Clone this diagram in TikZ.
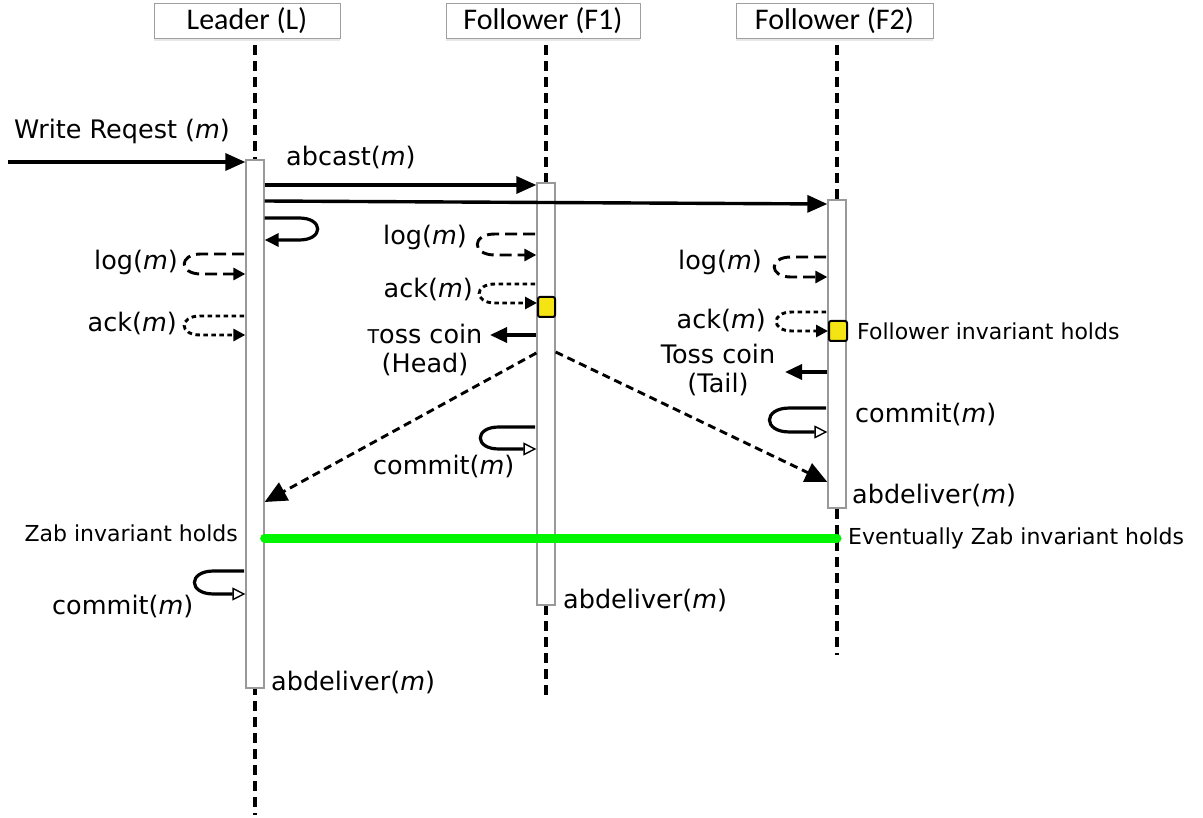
\documentclass[tikz,border=0pt]{standalone}
\usepackage{fontspec}
\setmainfont{DejaVu Sans}
\newfontfamily\hdrfont{Carlito}
\usetikzlibrary{arrows.meta,shadows}

% C-shaped self call on the left of a bar: style, start, leftmost x, top y, bottom y, end
\newcommand\leftcall[6]{%
  \draw[#1] (#2) -- ({#3+0.9*(#5-#4)},#4)
    .. controls ({#3-0.22*(#5-#4)},#4) and ({#3-0.22*(#5-#4)},#5) ..
    ({#3+0.9*(#5-#4)},#5) -- (#6);}
% the same, opening to the left (bulge on the right)
\newcommand\rightcall[6]{%
  \draw[#1] (#2) -- ({#3-0.9*(#5-#4)},#4)
    .. controls ({#3+0.22*(#5-#4)},#4) and ({#3+0.22*(#5-#4)},#5) ..
    ({#3-0.9*(#5-#4)},#5) -- (#6);}

\begin{document}
\begin{tikzpicture}[x=1pt,y=-1pt,
  header/.style={draw=gray!75, fill=white, line width=0.9pt, minimum width=186pt,
    minimum height=35pt, inner sep=0pt, font=\hdrfont\fontsize{30}{32}\selectfont,
    drop shadow={opacity=0.18, shadow xshift=0pt, shadow yshift=-3pt}},
  lifeline/.style={line width=3.2pt, dash pattern=on 10pt off 6pt},
  activation/.style={draw=gray!80, fill=white, line width=1.3pt, minimum width=18pt, inner sep=0pt},
  token/.style={draw=black, fill={rgb,255:red,245;green,228;blue,20}, line width=2pt, rounded corners=2pt,
    minimum width=17pt, minimum height=20pt, inner sep=0pt},
  lbl/.style={inner sep=0pt, font=\fontsize{25.5}{28}\selectfont},
  small/.style={inner sep=0pt, font=\fontsize{22}{26}\selectfont},
  msg/.style={line width=3.4pt, -{Triangle[length=20pt,width=17pt]}},
  selfmsg/.style={line width=3.2pt, -{Triangle[length=14pt,width=13pt]}},
  logloop/.style={line width=2.9pt, dash pattern=on 12pt off 6pt,
    -{Triangle[length=12pt,width=12pt]}},
  ackloop/.style={line width=2.9pt, dash pattern=on 4.5pt off 3.5pt,
    -{Triangle[length=12pt,width=12pt]}},
  commitloop/.style={line width=3.2pt,
    -{Triangle[open,fill=white,length=13pt,width=13pt,line width=1.4pt]}},
  coinmsg/.style={line width=3.4pt, -{Triangle[length=17pt,width=15pt]}},
  reply/.style={line width=2.9pt, dash pattern=on 8pt off 5pt, -{Triangle[length=22pt,width=20pt]}},
  agree/.style={line width=9pt, line cap=round, draw={rgb,255:red,0;green,245;blue,0}}
]
\useasboundingbox (0,0) rectangle (1203,818);

% participants
\node[header] (hL) at (247,20.5) {Leader (L)};
\node[header, minimum width=194pt] (hF1) at (543,20.5) {Follower (F1)};
\node[header, minimum width=197pt] (hF2) at (834.5,20.5) {Follower (F2)};

% lifelines
\coordinate (Ltop) at (255,45);   \coordinate (Lend) at (255,815);
\coordinate (F1top) at (546,45);  \coordinate (F1end) at (546,700);
\coordinate (F2top) at (837,45);  \coordinate (F2end) at (837,655);
\draw[lifeline] (Ltop) -- (Lend);
\draw[lifeline] (F1top) -- (F1end);
\draw[lifeline] (F2top) -- (F2end);

% activation bars
\node[activation, minimum height=528pt] (aL) at (255,424) {};
\node[activation, minimum height=422pt] (aF1) at (546,394) {};
\node[activation, minimum height=308pt] (aF2) at (837,354) {};

% client request and broadcast
\coordinate (client) at (8,162);
\draw[msg] (client) -- (aL.west |- 0,162);
\node[lbl, anchor=west] (tWR) at (14,131) {Write Reqest (\textit{m})};

\draw[msg] (aL.east |- 0,185) -- (aF1.west |- 0,185);
\node[lbl, anchor=west] (tAB) at (286,157) {abcast(\textit{m})};
\draw[msg] (aL.east |- 0,201) -- (aF2.west |- 0,204);

% leader self message
\rightcall{selfmsg}{aL.east |- 0,218}{319}{218}{240}{aL.east |- 0,240}

% leader log / ack
\leftcall{logloop}{244,254}{183}{254}{274}{aL.west |- 0,274}
\node[lbl, anchor=east] (tLlog) at (178,262) {log(\textit{m})};
\leftcall{ackloop}{244,316}{183}{316}{335}{aL.west |- 0,335}
\node[lbl, anchor=east] (tLack) at (177,323) {ack(\textit{m})};

% follower F1
\node[token] (yF1) at (546.5,307) {};
\leftcall{logloop}{535,234}{476}{234}{255}{aF1.west |- 0,255}
\node[lbl, anchor=east] (tF1log) at (467,237) {log(\textit{m})};
\leftcall{ackloop}{535,284}{478}{284}{303}{yF1.west |- 0,303}
\node[lbl, anchor=east] (tF1ack) at (473,289) {ack(\textit{m})};
\coordinate (coinF1) at (490,335);
\draw[coinmsg] (aF1.west |- 0,335) -- (coinF1);
\node[lbl, align=center] (tF1coin) at (425,350)
  {{\fontsize{19}{28}\selectfont T}oss coin\\[1pt](Head)};
\leftcall{commitloop}{535,427}{479}{427}{449}{aF1.west |- 0,449}
\node[lbl, anchor=west] (tF1com) at (373,466) {commit(\textit{m})};
\node[lbl, anchor=west] (tF1del) at (563,600) {abdeliver(\textit{m})};

% follower F2
\node[token, minimum width=18pt] (yF2) at (838,331) {};
\leftcall{logloop}{826,257}{773}{257}{277}{aF2.west |- 0,277}
\node[lbl, anchor=east] (tF2log) at (762,262) {log(\textit{m})};
\leftcall{ackloop}{826,312}{775}{312}{331}{yF2.west |- 0,331}
\node[lbl, anchor=east] (tF2ack) at (766,320) {ack(\textit{m})};
\node[small, anchor=west] (tFinv) at (857,331) {Follower invariant holds};
\coordinate (coinF2) at (785,372);
\draw[coinmsg] (aF2.west |- 0,372) -- (coinF2);
\node[lbl, align=center] (tF2coin) at (718,370) {Toss coin\\[1pt](Tail)};
\leftcall{commitloop}{826,408}{768}{408}{432}{aF2.west |- 0,432}
\node[lbl, anchor=west] (tF2com) at (855,414) {commit(\textit{m})};
\node[lbl, anchor=west] (tF2del) at (852,495) {abdeliver(\textit{m})};

% coin results sent back
\draw[reply] (aF1.west |- 0,353) -- (aL.east |- 0,502);
\draw[reply] (aF1.east |- 0,352) -- (aF2.west |- 0,482);

% Zab invariant
\draw[agree] (aL.east |- 0,538) -- (F2top |- 0,538);
\node[small, anchor=east] (tZab) at (238,533) {Zab invariant holds};
\node[small, anchor=west] (tEv) at (848,538) {Eventually Zab invariant holds};

% leader commit and delivery
\leftcall{commitloop}{244,571}{193}{571}{594}{aL.west |- 0,594}
\node[lbl, anchor=west] (tLcom) at (52,606) {commit(\textit{m})};
\node[lbl, anchor=west] (tLdel) at (271,682) {abdeliver(\textit{m})};
\end{tikzpicture}
\end{document}
